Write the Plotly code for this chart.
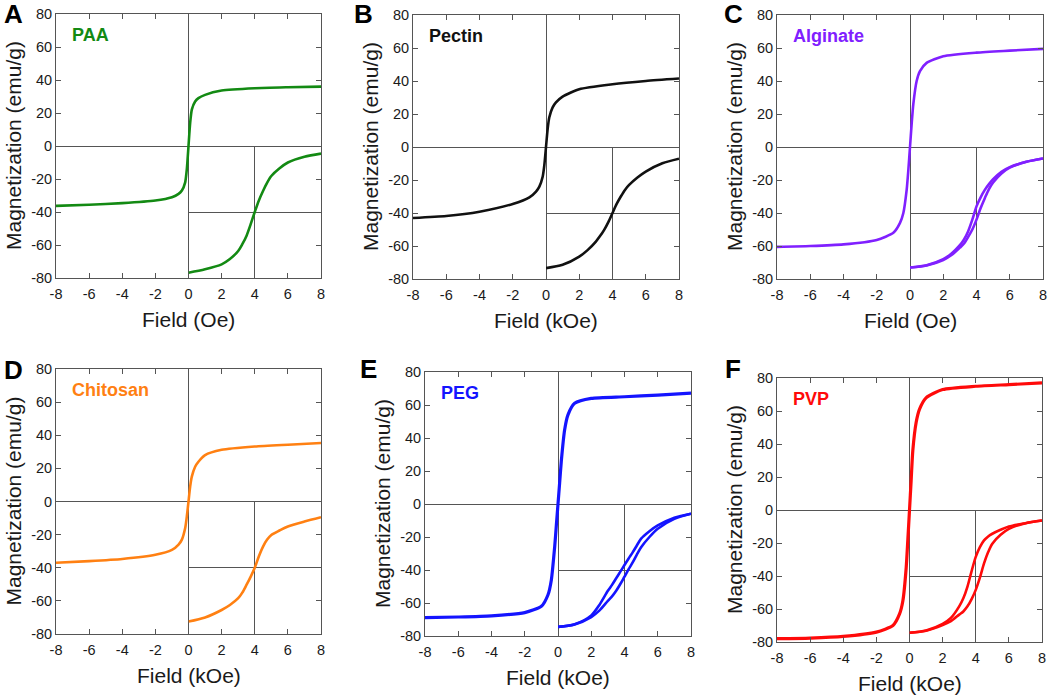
import plotly.graph_objects as go

# main loops, field in kOe (panels A and C are labelled Oe on the original)
FIELD = [-8, -6, -4, -2, -1, -0.6, -0.4, -0.2, -0.1, 0, 0.1, 0.2, 0.4, 0.6, 1, 2, 4, 6, 8]
M_PAA = [-36.3, -35.6, -34.6, -33, -31, -29, -27, -22, -14, 0, 14, 22, 27, 29, 31, 33.6, 35, 35.6, 36]
M_PECTIN = [-43, -41.8, -39.2, -34.5, -30.5, -27, -24, -18, -11, 0, 11, 18, 24, 27, 30.5, 35, 38, 40, 41.5]
M_ALGINATE = [-60.5, -60, -59, -56.3, -52, -46, -40, -26, -14, 0, 14, 26, 40, 46, 51, 55, 57.2, 58.4, 59.5]
M_CHITOSAN = [-37, -36, -34.7, -32.2, -29.2, -26, -23, -16, -9, 0, 9, 15, 21, 24, 28, 31.2, 33.2, 34.3, 35.3]
M_PEG = [-68.9, -68.5, -67.8, -65.8, -62, -55, -46, -26, -13, 0, 13, 26, 45, 54, 61, 64, 65, 66, 67.2]
M_PVP = [-78, -77.6, -76.6, -74, -70, -63, -55, -35, -18, 0, 18, 36, 53, 61, 68, 73, 75, 76, 77]

# zoomed low-field loops shown in the lower-right quadrant (inset units)
INSET_FIELD = [-4, -3, -2, -1.5, -1, -0.75, -0.5, -0.25, 0, 0.25, 0.5, 0.75, 1, 1.5, 2, 3, 4]
INSET_PAA = [-36.8, -34.7, -31.7, -28.5, -23.6, -19.5, -14.5, -7.5, 0, 7, 12.7, 17.8, 21.8, 26.5, 30, 33.5, 35.4]
INSET_PECTIN = [-33.4, -31.4, -26.4, -22.5, -17.3, -14, -10.2, -5.5, 0, 5.5, 10, 14, 17, 21.5, 25.1, 30.1, 32.9]
INSET_ALGINATE_UP = [-33, -31.6, -28, -24.5, -19.5, -16, -11, -4, 4, 9.5, 14, 17.5, 20.5, 25, 27.8, 31, 33]
INSET_ALGINATE_DOWN = [-33, -31.8, -28.5, -25.5, -21, -18.5, -14.5, -10, -4, 3, 9, 14.5, 18.5, 24, 27.5, 31, 33]
INSET_CHITOSAN = [-32.5, -30, -25.5, -22.5, -18.4, -15, -10.4, -5.5, 0, 7, 12.8, 17, 19.8, 22.5, 24.9, 27.9, 30.5]
INSET_PEG_UP = [-34.5, -32.9, -27.5, -21, -12.6, -9, -5, -1, 3, 7, 10.8, 15, 19, 23.5, 27, 31.7, 34.1]
INSET_PEG_DOWN = [-34.5, -33, -28.5, -24.5, -18.7, -16, -12.6, -8.5, -4, 0.5, 4.7, 9.5, 13.8, 20, 25, 31, 34.1]
INSET_PVP_UP = [-34.4, -33, -29, -25.4, -18.4, -13.5, -6.4, 3, 11.6, 17.5, 21.6, 24, 25.6, 28, 30, 32, 33.6]
INSET_PVP_DOWN = [-34.4, -33.2, -29.8, -27.4, -23.4, -21.5, -18.4, -14, -8.4, -1, 7.6, 14.5, 19.6, 25, 28.6, 32, 33.6]

X_TICKS = [-8, -6, -4, -2, 0, 2, 4, 6, 8]
X_TICK_TEXT = ['-8', '-6', '-4', '-2', '0', '2', '4', '6', '8']
Y_TICKS = [-80, -60, -40, -20, 0, 20, 40, 60, 80]
Y_TICK_TEXT = ['-80', '-60', '-40', '-20', '0', '20', '40', '60', '80']

samples = [
    dict(letter='A', name='PAA', color='#138a13', unit='Field (Oe)', main=M_PAA,
         inset=[INSET_PAA], width=2.6),
    dict(letter='B', name='Pectin', color='#111111', unit='Field (kOe)', main=M_PECTIN,
         inset=[INSET_PECTIN], width=2.6),
    dict(letter='C', name='Alginate', color='#8020ff', unit='Field (Oe)', main=M_ALGINATE,
         inset=[INSET_ALGINATE_UP, INSET_ALGINATE_DOWN], width=2.6),
    dict(letter='D', name='Chitosan', color='#ff8012', unit='Field (kOe)', main=M_CHITOSAN,
         inset=[INSET_CHITOSAN], width=2.6),
    dict(letter='E', name='PEG', color='#1414ff', unit='Field (kOe)', main=M_PEG,
         inset=[INSET_PEG_UP, INSET_PEG_DOWN], width=3.2),
    dict(letter='F', name='PVP', color='#ff0a0a', unit='Field (kOe)', main=M_PVP,
         inset=[INSET_PVP_UP, INSET_PVP_DOWN], width=3.2),
]

# plot boxes in pixels (left, top, right, bottom) and letter centres
W, H = 1050, 697
boxes = [(56, 14, 321, 278), (413, 15, 679, 279), (777, 15, 1043, 279),
         (56, 369, 321, 634), (425, 372, 691, 636), (777, 378, 1042, 642)]
letter_pos = [(13, 14), (363, 14), (733, 14), (13, 370), (368, 369), (733, 369)]

FONT = 'Liberation Sans, Arial, sans-serif'
AX = '#555555'
TXT = '#1a1a1a'

fig = go.Figure()
layout = dict(width=W, height=H, margin=dict(l=0, r=0, t=0, b=0, autoexpand=False),
              paper_bgcolor='white', plot_bgcolor='rgba(0,0,0,0)',
              showlegend=False, font=dict(family=FONT, color=TXT))
annotations = []

for i, s in enumerate(samples):
    l, t, r, b = boxes[i]
    n, m = i + 1, i + 7
    sx = '' if n == 1 else str(n)
    xd = [l / W, r / W]
    yd = [1 - b / H, 1 - t / H]

    layout['xaxis' + sx] = dict(
        domain=xd, anchor='y' + sx, range=[-8, 8], tickvals=X_TICKS, ticktext=X_TICK_TEXT,
        ticks='inside', ticklen=5, tickcolor=AX, showline=True, linecolor=AX, linewidth=1,
        mirror='ticks', showgrid=False, zeroline=True, zerolinecolor=AX, zerolinewidth=1,
        tickfont=dict(size=14.5, color=TXT), automargin=False, ticklabelstandoff=3,
        ticklabeloverflow='allow')
    layout['yaxis' + sx] = dict(
        domain=yd, anchor='x' + sx, range=[-80, 80], tickvals=Y_TICKS, ticktext=Y_TICK_TEXT,
        ticks='inside', ticklen=5, tickcolor=AX, showline=True, linecolor=AX, linewidth=1,
        mirror='ticks', showgrid=False, zeroline=True, zerolinecolor=AX, zerolinewidth=1,
        tickfont=dict(size=14.5, color=TXT), automargin=False, ticklabeloverflow='allow')

    # inset axes fill the lower-right quadrant; their zero lines give the crosshair
    layout['xaxis' + str(m)] = dict(
        domain=[(l + r) / 2 / W, r / W], anchor='y' + str(m), range=[-4, 4],
        showline=False, showticklabels=False, ticks='', showgrid=False, automargin=False,
        zeroline=True, zerolinecolor=AX, zerolinewidth=1)
    layout['yaxis' + str(m)] = dict(
        domain=[1 - b / H, 1 - (t + b) / 2 / H], anchor='x' + str(m), range=[-40, 40],
        showline=False, showticklabels=False, ticks='', showgrid=False, automargin=False,
        zeroline=True, zerolinecolor=AX, zerolinewidth=1)

    fig.add_trace(go.Scatter(
        x=FIELD, y=s['main'], mode='lines', name=s['name'],
        line=dict(color=s['color'], width=s['width'], shape='spline', smoothing=0.6),
        xaxis='x' + sx, yaxis='y' + sx))
    for branch in s['inset']:
        fig.add_trace(go.Scatter(
            x=INSET_FIELD, y=branch, mode='lines', name=s['name'] + ' inset',
            line=dict(color=s['color'], width=2.6, shape='spline', smoothing=0.8),
            xaxis='x' + str(m), yaxis='y' + str(m)))

    # axis titles placed as text so they sit where the original has them
    annotations.append(dict(
        text='Magnetization (emu/g)', x=(l - 43) / W, y=1 - (t + b) / 2 / H,
        xref='paper', yref='paper', xanchor='center', yanchor='middle', textangle=-90,
        showarrow=False, font=dict(size=21, color=TXT, family=FONT)))
    annotations.append(dict(
        text=s['unit'], x=(l + r) / 2 / W, y=1 - (b + 41) / H,
        xref='paper', yref='paper', xanchor='center', yanchor='middle',
        showarrow=False, font=dict(size=21, color=TXT, family=FONT)))

    lx, ly = letter_pos[i]
    annotations.append(dict(
        text='<b>' + s['letter'] + '</b>', x=lx / W, y=1 - ly / H, xref='paper', yref='paper',
        xanchor='center', yanchor='middle', showarrow=False,
        font=dict(size=26, color='#000000', family=FONT)))
    annotations.append(dict(
        text='<b>' + s['name'] + '</b>', x=(l + 14) / W, y=1 - (t + 21) / H,
        xref='paper', yref='paper', xanchor='left', yanchor='middle', showarrow=False,
        font=dict(size=18, color=s['color'], family=FONT)))

layout['annotations'] = annotations
fig.update_layout(**layout)
# the page body has a default 8px margin; drop it so the figure sits at the window corner
fig.write_html("out.html", config={'displayModeBar': False},
               post_script="document.body.style.margin='0';")
